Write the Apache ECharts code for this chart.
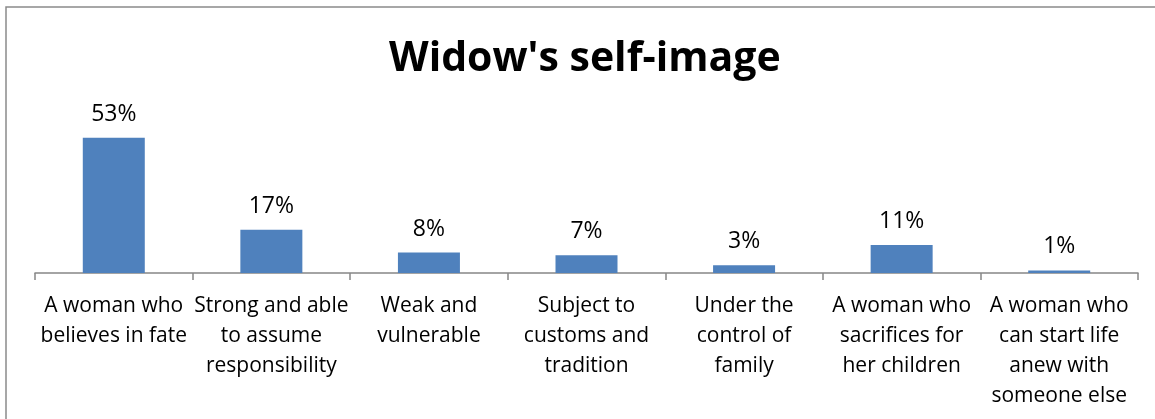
<!DOCTYPE html>
<html>
<head>
<meta charset="utf-8">
<script src="https://cdn.jsdelivr.net/npm/echarts@6/dist/echarts.min.js"></script>
<style>html,body{margin:0;padding:0;background:#fff;}#c{width:1155px;height:419px;}</style>
</head>
<body>
<div id="c"></div>
<script>
const titleText = "Widow's self-image";
const categories = [
  "A woman who\nbelieves in fate",
  "Strong and able\nto assume\nresponsibility",
  "Weak and\nvulnerable",
  "Subject to\ncustoms and\ntradition",
  "Under the\ncontrol of\nfamily",
  "A woman who\nsacrifices for\nher children",
  "A woman who\ncan start life\nanew with\nsomeone else"
];
const values = [53, 17, 8, 7, 3, 11, 1];

const chart = echarts.init(document.getElementById('c'), null, {renderer: 'canvas'});
chart.setOption({
  animation: false,
  backgroundColor: '#ffffff',
  textStyle: {fontFamily: 'Open Sans'},
  title: {
    text: titleText,
    left: 384,
    top: 34,
    textStyle: {fontFamily: 'Open Sans', fontWeight: 'bold', fontSize: 41, color: '#000'}
  },
  graphic: [{
    type: 'rect',
    shape: {x: 6, y: 7, width: 1300, height: 600},
    style: {fill: 'none', stroke: '#8a8a8a', lineWidth: 1.5},
    silent: true
  }],
  grid: {left: 35, right: 17, top: 120, bottom: 146},
  xAxis: {
    type: 'category',
    data: categories,
    axisLine: {lineStyle: {color: '#868686', width: 1.5}},
    axisTick: {show: true, length: 7, alignWithLabel: false, lineStyle: {color: '#868686', width: 1.5}},
    axisLabel: {interval: 0, color: '#000', fontSize: 21, lineHeight: 30, margin: 18, fontFamily: 'Open Sans'}
  },
  yAxis: {type: 'value', min: 0, max: 60, show: false, splitLine: {show: false}},
  series: [{
    type: 'bar',
    data: values,
    barWidth: 62,
    itemStyle: {color: '#4F81BD'},
    label: {
      show: true,
      position: 'top',
      distance: 12,
      formatter: '{c}%',
      color: '#000',
      fontSize: 23,
      fontFamily: 'Open Sans'
    }
  }]
});
</script>
</body>
</html>
